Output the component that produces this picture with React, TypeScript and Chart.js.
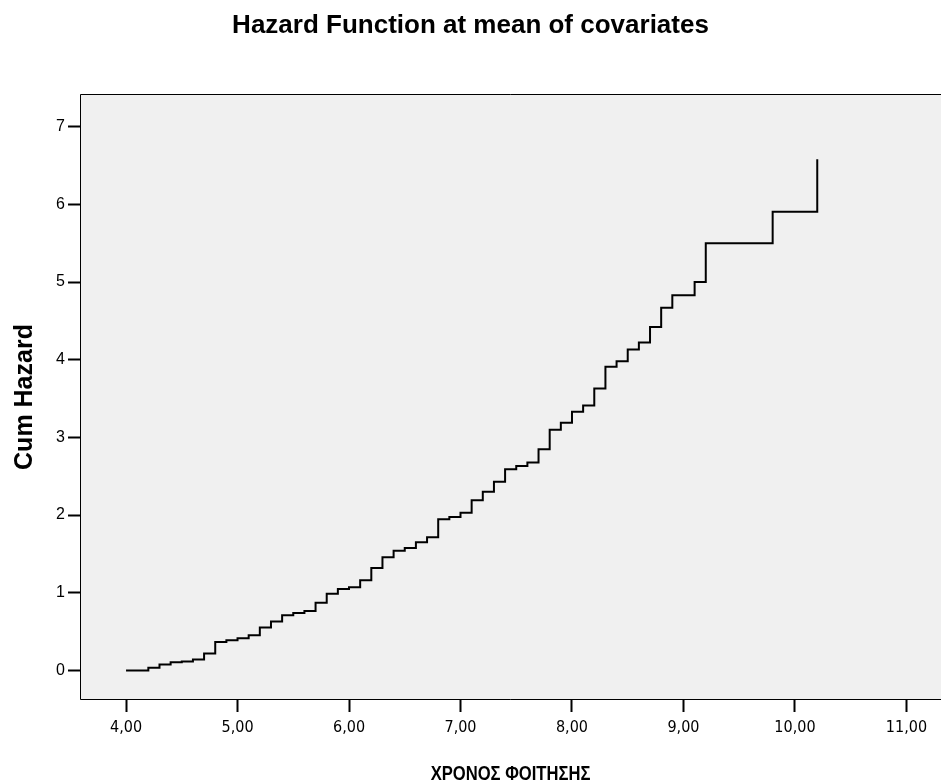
import React, { useEffect, useRef } from "react";
import { Chart, registerables } from "chart.js";

Chart.register(...registerables);

// Event times (years of study) and the cumulative hazard reached at each time
const studyTime = [
  4.0, 4.2, 4.3, 4.4, 4.5, 4.6, 4.7, 4.8, 4.9, 5.0, 5.1, 5.2, 5.3, 5.4, 5.5, 5.6,
  5.7, 5.8, 5.9, 6.0, 6.1, 6.2, 6.3, 6.4, 6.5, 6.6, 6.7, 6.8, 6.9, 7.0, 7.1, 7.2,
  7.3, 7.4, 7.5, 7.6, 7.7, 7.8, 7.9, 8.0, 8.1, 8.2, 8.3, 8.4, 8.5, 8.6, 8.7, 8.8,
  8.9, 9.1, 9.2, 9.8, 10.2,
];
const cumHazard = [
  0, 0.035, 0.077, 0.107, 0.115, 0.14, 0.219, 0.365, 0.39, 0.416, 0.455, 0.554,
  0.63, 0.71, 0.739, 0.765, 0.872, 0.988, 1.048, 1.07, 1.16, 1.318, 1.456, 1.542,
  1.576, 1.649, 1.714, 1.946, 1.976, 2.03, 2.19, 2.3, 2.43, 2.59, 2.633, 2.677,
  2.848, 3.1, 3.19, 3.33, 3.41, 3.63, 3.91, 3.98, 4.13, 4.22, 4.42, 4.67, 4.83,
  5.0, 5.5, 5.906, 6.58,
];

const xTickValues = [4, 5, 6, 7, 8, 9, 10, 11];
const yTickValues = [0, 1, 2, 3, 4, 5, 6, 7];

const chartTitle = "Hazard Function at mean of covariates";
const xAxisTitle = "ΧΡΟΝΟΣ ΦΟΙΤΗΣΗΣ";
const yAxisTitle = "Cum Hazard";

const SANS = '"Liberation Sans", Arial, Helvetica, sans-serif';
const NARROW = '"Liberation Sans Narrow", "Arial Narrow", "DejaVu Sans Condensed", sans-serif';

// Grey plot panel with a thin frame, painted under the data
const plotPanel = {
  id: "plotPanel",
  beforeDatasetsDraw(chart: any) {
    const { ctx, chartArea } = chart;
    const { left, top, right, bottom } = chartArea;
    ctx.save();
    ctx.fillStyle = "#f0f0f0";
    ctx.fillRect(left, top, right - left, bottom - top);
    ctx.strokeStyle = "#000";
    ctx.lineWidth = 1;
    ctx.beginPath();
    ctx.moveTo(right, top + 0.5);
    ctx.lineTo(left + 0.5, top + 0.5);
    ctx.lineTo(left + 0.5, bottom - 0.5);
    ctx.lineTo(right, bottom - 0.5);
    ctx.stroke();
    ctx.restore();
  },
};

// Horizontal-axis caption in a condensed bold face, centred under the plot
const xCaption = {
  id: "xCaption",
  afterDraw(chart: any) {
    const { ctx, chartArea } = chart;
    const cx = (chartArea.left + chartArea.right) / 2;
    const squeeze = 0.83;
    ctx.save();
    ctx.translate(cx, 774);
    ctx.scale(squeeze, 1);
    ctx.fillStyle = "#000";
    ctx.font = `bold 20px ${SANS}`;
    ctx.textAlign = "center";
    ctx.textBaseline = "middle";
    ctx.fillText(xAxisTitle, 0, 0);
    ctx.restore();
  },
};

export default function App() {
  const canvasRef = useRef<HTMLCanvasElement | null>(null);

  useEffect(() => {
    const canvas = canvasRef.current;
    if (!canvas) return;

    const points = studyTime.map((t, i) => ({ x: t, y: cumHazard[i] }));

    const chart = new Chart(canvas, {
      type: "line",
      data: {
        datasets: [
          {
            data: points,
            stepped: true,
            borderColor: "#000",
            borderWidth: 2,
            pointRadius: 0,
            fill: false,
          },
        ],
      },
      plugins: [plotPanel, xCaption],
      options: {
        responsive: false,
        animation: false,
        layout: { padding: 0 },
        plugins: {
          legend: { display: false },
          tooltip: { enabled: false },
          title: {
            display: true,
            text: chartTitle,
            color: "#000",
            font: { family: SANS, size: 26, weight: "bold", lineHeight: 1.2 },
            padding: { top: 10.4, bottom: 52.4 },
          },
        },
        scales: {
          x: {
            type: "linear",
            min: 3.587,
            max: 11.31,
            afterFit(scale: any) {
              scale.height = 84;
            },
            afterBuildTicks(scale: any) {
              scale.ticks = xTickValues.map((v) => ({ value: v }));
            },
            grid: {
              drawOnChartArea: false,
              drawTicks: true,
              tickLength: 12,
              tickWidth: 2,
              tickColor: "#000",
            },
            border: { display: false },
            ticks: {
              color: "#000",
              padding: 6,
              maxRotation: 0,
              autoSkip: false,
              font: { family: NARROW, size: 16 },
              callback: (v: any) => Number(v).toFixed(2).replace(".", ","),
            },
            title: { display: false },
          },
          y: {
            type: "linear",
            min: -0.38,
            max: 7.42,
            afterFit(scale: any) {
              scale.width = 80;
            },
            afterBuildTicks(scale: any) {
              scale.ticks = yTickValues.map((v) => ({ value: v }));
            },
            grid: {
              drawOnChartArea: false,
              drawTicks: true,
              tickLength: 12,
              tickWidth: 2,
              tickColor: "#000",
            },
            border: { display: false },
            ticks: {
              color: "#000",
              padding: 3,
              autoSkip: false,
              font: { family: SANS, size: 16 },
              callback: (v: any) => String(v),
            },
            title: {
              display: true,
              text: yAxisTitle,
              color: "#000",
              font: { family: SANS, size: 25, weight: "bold", lineHeight: 1.2 },
              padding: { top: 10, bottom: 0 },
            },
          },
        },
      },
    });

    return () => chart.destroy();
  }, []);

  return (
    <div
      style={{
        position: "absolute",
        left: 0,
        top: 0,
        width: 941,
        height: 784,
        background: "#fff",
      }}
    >
      <canvas ref={canvasRef} width={941} height={784} style={{ display: "block" }} />
    </div>
  );
}
